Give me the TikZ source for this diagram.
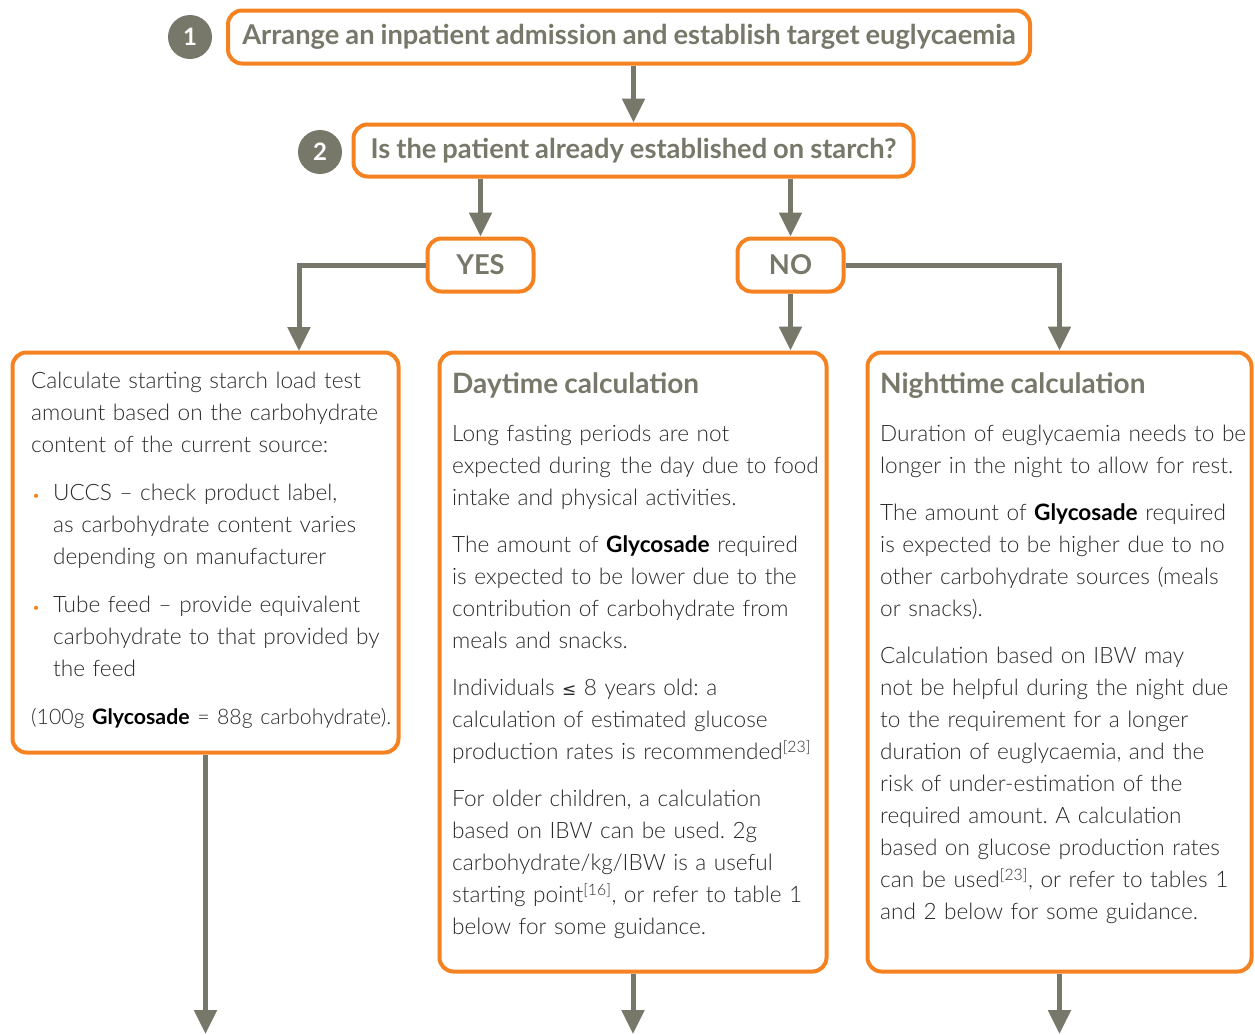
\documentclass[tikz,border=0pt]{standalone}
\usepackage{fontspec}
\usetikzlibrary{arrows.meta}
\IfFontExistsTF{Lato Light}{\setmainfont{Lato}[UprightFont=* Light,BoldFont=* Bold,WordSpace=0.9]}{\setmainfont{Lato}}
\newfontfamily\symfont{DejaVu Sans}
\definecolor{org}{HTML}{F58220}
\definecolor{olive}{HTML}{77776A}
\definecolor{txt}{HTML}{2A2A2A}
\newcommand{\gly}{\textbf{\color{black}Glycosade}}
\newcommand{\bul}{\makebox[22pt][l]{\hspace{1pt}\textcolor{org}{\fontsize{14}{14}\selectfont •}}}
\tikzset{
  box/.style={draw=org, line width=4pt, rounded corners=14pt, inner sep=0pt},
  num/.style={circle, fill=olive, minimum size=44pt, inner sep=0pt, text=white, font=\bfseries\fontsize{24}{24}\selectfont},
  arr/.style={draw=olive, line width=5pt, -{Triangle[length=24pt,width=22pt]}},
  body/.style={anchor=north west, inner sep=0pt, text width=430pt, align=left, text=txt, font=\fontsize{22.6}{32}\selectfont\frenchspacing},
  head/.style={anchor=base west, inner sep=0pt, text=olive, font=\bfseries\fontsize{28}{32}\selectfont},
  ttl/.style={text=olive, font=\bfseries\fontsize{27.3}{30}\selectfont}
}
\begin{document}
\begin{tikzpicture}[x=1pt,y=-1pt]
\useasboundingbox (0,0) rectangle (1255,1034);
% numbered circles
\node[num] (n1) at (190,37) {1};
\node[num] (n2) at (320,152) {2};
% boxes
\node[box, minimum width=802pt, minimum height=53pt] (b1) at (629,37) {};
\node[ttl] (t1) at (629,37) {Arrange an inpatient admission and establish target euglycaemia};
\node[box, minimum width=560pt, minimum height=52pt] (b2) at (633.5,150.5) {};
\node[ttl] (t2) at (633.5,150.5) {Is the patient already established on starch?};
\node[box, minimum width=106pt, minimum height=53pt, ttl] (yes) at (480.5,265) {YES};
\node[box, minimum width=106pt, minimum height=53pt, ttl] (no) at (790.5,265) {NO};
\node[box, minimum width=386pt, minimum height=400pt] (left) at (205.5,552.5) {};
\node[box, minimum width=387pt, minimum height=619pt] (mid) at (633,662) {};
\node[box, minimum width=384pt, minimum height=619pt] (right) at (1059.5,662) {};
% coordinates
\coordinate (lt) at (299,351);
\coordinate (le) at (205.5,1034);
\coordinate (me) at (633,1034);
\coordinate (re) at (1059.5,1034);
% connectors
\draw[arr] (b1.south -| b2.north) -- (b2.north);
\draw[arr] (b2.south -| yes.north) -- (yes.north);
\draw[arr] (b2.south -| no.north) -- (no.north);
\draw[arr] (yes.west) -| (lt);
\draw[arr] (no.south) -- (mid.north -| no.south);
\draw[arr] (no.east) -| (right.north);
\draw[arr] (left.south) -- (le);
\draw[arr] (mid.south) -- (me);
\draw[arr] (right.south) -- (re);
% left text
\node[body] (lx) at (31,372) {\setlength{\parskip}{16pt}%
Calculate starting starch load test\\
amount based on the carbohydrate\\
content of the current source:\par
\hangindent=22pt\hangafter=1 \bul UCCS – check product label,\newline
as carbohydrate content varies\newline
depending on manufacturer\par
\hangindent=22pt\hangafter=1 \bul Tube feed – provide equivalent\newline
carbohydrate to that provided by\newline
the feed\par
{\fontsize{21.3}{32}\selectfont (100g \gly{} = 88g carbohydrate).}};
% middle
\node[head] (mh) at (452,393) {Daytime calculation};
\node[body] (mx) at (452,425) {\setlength{\parskip}{15pt}%
Long fasting periods are not\\
expected during \hspace{2pt}the day due to food\\
intake and physical activities.\par
The amount of \gly{} required\\
is expected to be lower due to the\\
contribution of carbohydrate from\\
meals and snacks.\par
Individuals {\symfont\fontsize{17}{17}\selectfont ≤} 8 years old: a\\
calculation of estimated glucose\\
production rates is recommended\textsuperscript{[23]}\par
For older children, a calculation\\
based on IBW can be used. 2g\\
carbohydrate/kg/IBW is a useful\\
starting point\textsuperscript{[16]}, or refer to table 1\\
below for some guidance.};
% right
\node[head] (rh) at (880,393) {Nighttime calculation};
\node[body] (rx) at (880,425) {\setlength{\parskip}{15pt}%
Duration of euglycaemia needs to be\\
longer in the night to allow for rest.\par
The amount of \gly{} required\\
is expected to be higher due to no\\
other carbohydrate sources (meals\\
or snacks).\par
Calculation based on IBW may\\
not be helpful during the night due\\
to the requirement for a longer\\
duration of euglycaemia, and the\\
risk of under-estimation of the\\
required amount. A calculation\\
based on glucose production rates\\
can be used\textsuperscript{[23]}, or refer to tables 1\\
and 2 below for some guidance.};
\end{tikzpicture}
\end{document}
